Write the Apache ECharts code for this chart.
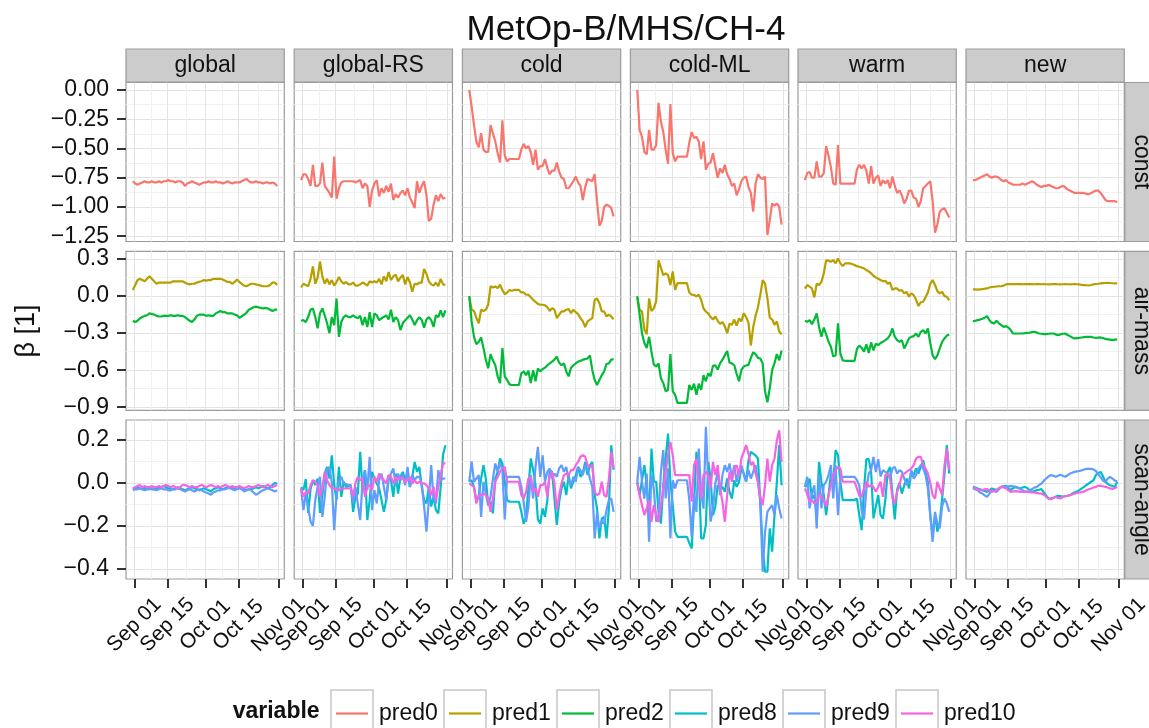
<!DOCTYPE html>
<html>
<head>
<meta charset="utf-8">
<script src="https://cdn.jsdelivr.net/npm/echarts@6/dist/echarts.min.js"></script>
<style>
html,body{margin:0;padding:0;background:#ffffff;}
#chart{width:1149px;height:728px;}
</style>
</head>
<body>
<div id="chart"></div>
<script>
// ---------------- categories / labels ----------------
const columnNames = ['global', 'global-RS', 'cold', 'cold-ML', 'warm', 'new'];
const rowNames = ['const', 'air-mass', 'scan-angle'];
const seriesNames = ['pred0', 'pred1', 'pred2', 'pred8', 'pred9', 'pred10'];
const chartTitle = 'MetOp-B/MHS/CH-4';
const yTitle = 'β [1]';
const legendTitle = 'variable';

// days since Sep 01 (daily values, Aug 31 .. Oct 31)
const days = [];
for (let i = 0; i < 62; i++) days.push(i - 0.6);

const xTickDays = [0, 14, 30, 44, 61];
const xTickLabels = ['Sep 01', 'Sep 15', 'Oct 01', 'Oct 15', 'Nov 01'];
const xMinorDays = [7, 22, 37, 52.5];

const yTicksConst = [0, -0.25, -0.5, -0.75, -1, -1.25];
const yTickLabelsConst = ['0.00', '\u22120.25', '\u22120.50', '\u22120.75', '\u22121.00', '\u22121.25'];
const yMinorConst = [-0.125, -0.375, -0.625, -0.875, -1.125];
const yTicksAir = [0.3, 0, -0.3, -0.6, -0.9];
const yTickLabelsAir = ['0.3', '0.0', '\u22120.3', '\u22120.6', '\u22120.9'];
const yMinorAir = [0.15, -0.15, -0.45, -0.75];
const yTicksScan = [0.2, 0, -0.2, -0.4];
const yTickLabelsScan = ['0.2', '0.0', '\u22120.2', '\u22120.4'];
const yMinorScan = [0.1, -0.1, -0.3];

// ---------------- data: const (pred0) ----------------
const constGlobal = [-0.78,-0.80,-0.81,-0.80,-0.79,-0.78,-0.79,-0.79,-0.78,-0.79,-0.79,-0.78,-0.79,-0.78,-0.78,-0.77,-0.78,-0.78,-0.79,-0.78,-0.78,-0.79,-0.82,-0.80,-0.79,-0.78,-0.79,-0.80,-0.81,-0.80,-0.79,-0.79,-0.78,-0.79,-0.79,-0.78,-0.79,-0.79,-0.80,-0.79,-0.78,-0.79,-0.80,-0.79,-0.79,-0.79,-0.78,-0.77,-0.76,-0.78,-0.79,-0.79,-0.78,-0.79,-0.79,-0.80,-0.79,-0.79,-0.80,-0.79,-0.80,-0.82];
const constGlobalRS = [-0.77,-0.72,-0.72,-0.76,-0.82,-0.64,-0.82,-0.82,-0.80,-0.62,-0.82,-0.85,-0.88,-0.92,-0.57,-0.93,-0.84,-0.79,-0.78,-0.78,-0.78,-0.78,-0.78,-0.79,-0.78,-0.77,-0.84,-0.80,-0.82,-1.00,-0.86,-0.80,-0.77,-0.91,-0.84,-0.88,-0.82,-0.87,-0.80,-0.94,-0.89,-0.92,-0.88,-0.86,-0.90,-0.84,-0.92,-0.96,-1.01,-0.78,-0.88,-0.82,-0.78,-0.90,-1.12,-1.10,-0.98,-0.90,-0.95,-0.89,-0.93,-0.92];
const constCold = [0.00,-0.14,-0.30,-0.44,-0.49,-0.37,-0.51,-0.53,-0.53,-0.30,-0.37,-0.44,-0.54,-0.62,-0.26,-0.56,-0.61,-0.59,-0.59,-0.59,-0.59,-0.59,-0.51,-0.46,-0.50,-0.48,-0.53,-0.64,-0.51,-0.68,-0.65,-0.65,-0.59,-0.67,-0.72,-0.69,-0.69,-0.62,-0.70,-0.75,-0.76,-0.84,-0.84,-0.81,-0.78,-0.74,-0.79,-0.82,-0.94,-0.83,-0.76,-0.77,-0.78,-0.72,-0.95,-1.16,-1.12,-1.00,-0.98,-0.99,-1.01,-1.08];
const constColdML = [0.00,-0.34,-0.40,-0.53,-0.55,-0.34,-0.51,-0.51,-0.47,-0.11,-0.27,-0.36,-0.51,-0.63,-0.12,-0.54,-0.61,-0.57,-0.57,-0.57,-0.57,-0.57,-0.45,-0.36,-0.41,-0.40,-0.44,-0.59,-0.44,-0.68,-0.63,-0.62,-0.54,-0.65,-0.75,-0.67,-0.71,-0.64,-0.72,-0.76,-0.82,-0.80,-0.90,-0.85,-0.78,-0.75,-0.74,-0.83,-0.88,-1.04,-0.80,-0.72,-0.75,-0.76,-0.74,-1.24,-1.11,-0.97,-0.99,-0.97,-1.00,-1.15];
const constWarm = [-0.77,-0.71,-0.70,-0.75,-0.75,-0.61,-0.74,-0.74,-0.71,-0.48,-0.56,-0.66,-0.80,-0.81,-0.47,-0.80,-0.80,-0.80,-0.80,-0.80,-0.80,-0.80,-0.68,-0.64,-0.67,-0.64,-0.69,-0.80,-0.65,-0.80,-0.75,-0.73,-0.82,-0.77,-0.80,-0.77,-0.84,-0.74,-0.82,-0.88,-0.86,-0.90,-0.97,-0.93,-0.86,-0.86,-0.92,-0.93,-1.00,-0.95,-0.84,-0.82,-0.80,-0.78,-0.95,-1.22,-1.15,-1.04,-1.02,-1.01,-1.05,-1.09];
const constNew = [-0.77,-0.77,-0.76,-0.75,-0.74,-0.73,-0.72,-0.74,-0.75,-0.74,-0.74,-0.75,-0.77,-0.78,-0.77,-0.79,-0.80,-0.81,-0.81,-0.81,-0.81,-0.80,-0.81,-0.80,-0.79,-0.78,-0.79,-0.81,-0.82,-0.83,-0.82,-0.82,-0.81,-0.82,-0.83,-0.84,-0.84,-0.83,-0.82,-0.83,-0.85,-0.86,-0.87,-0.88,-0.88,-0.88,-0.88,-0.88,-0.89,-0.89,-0.88,-0.87,-0.86,-0.86,-0.88,-0.91,-0.94,-0.95,-0.95,-0.95,-0.95,-0.96];

// ---------------- data: air-mass (pred1, pred2) ----------------
const p1Global = [0.05,0.09,0.13,0.14,0.13,0.12,0.14,0.16,0.14,0.12,0.10,0.11,0.11,0.11,0.11,0.11,0.11,0.12,0.12,0.12,0.12,0.12,0.11,0.10,0.095,0.10,0.10,0.11,0.115,0.12,0.13,0.125,0.13,0.13,0.14,0.14,0.14,0.14,0.135,0.125,0.115,0.115,0.10,0.115,0.135,0.115,0.10,0.085,0.08,0.09,0.10,0.10,0.095,0.09,0.085,0.08,0.08,0.08,0.09,0.11,0.11,0.09];
const p2Global = [-0.20,-0.21,-0.20,-0.18,-0.17,-0.16,-0.155,-0.14,-0.145,-0.15,-0.16,-0.165,-0.165,-0.16,-0.16,-0.16,-0.155,-0.16,-0.16,-0.155,-0.16,-0.16,-0.17,-0.185,-0.20,-0.21,-0.19,-0.16,-0.15,-0.15,-0.15,-0.16,-0.155,-0.16,-0.16,-0.14,-0.13,-0.12,-0.13,-0.13,-0.14,-0.14,-0.14,-0.15,-0.155,-0.175,-0.165,-0.15,-0.135,-0.11,-0.10,-0.09,-0.085,-0.09,-0.095,-0.10,-0.095,-0.10,-0.11,-0.12,-0.11,-0.11];
const p1GlobalRS = [0.07,0.10,0.09,0.08,0.14,0.24,0.10,0.15,0.28,0.16,0.10,0.14,0.095,0.13,0.085,0.115,0.155,0.12,0.10,0.115,0.095,0.095,0.11,0.085,0.085,0.095,0.11,0.10,0.085,0.12,0.11,0.12,0.11,0.14,0.095,0.16,0.12,0.195,0.13,0.16,0.175,0.12,0.15,0.17,0.095,0.155,0.11,0.035,0.10,0.095,0.11,0.11,0.22,0.18,0.12,0.095,0.085,0.11,0.08,0.14,0.095,0.09];
const p2GlobalRS = [-0.20,-0.195,-0.21,-0.17,-0.11,-0.10,-0.17,-0.26,-0.14,-0.10,-0.155,-0.22,-0.30,-0.17,-0.235,-0.02,-0.33,-0.21,-0.17,-0.155,-0.17,-0.17,-0.155,-0.17,-0.18,-0.16,-0.235,-0.17,-0.25,-0.13,-0.25,-0.14,-0.155,-0.195,-0.18,-0.17,-0.155,-0.19,-0.11,-0.21,-0.17,-0.195,-0.275,-0.22,-0.195,-0.175,-0.155,-0.19,-0.235,-0.195,-0.17,-0.195,-0.255,-0.19,-0.17,-0.195,-0.25,-0.155,-0.17,-0.115,-0.17,-0.115];
const p1Cold = [0.00,-0.11,-0.12,-0.175,-0.22,-0.11,-0.12,-0.11,-0.07,0.08,0.07,0.078,0.065,0.092,0.05,0.015,0.03,0.05,0.043,0.05,0.05,0.05,0.03,0.03,0.011,0.011,-0.01,-0.03,-0.047,-0.063,-0.07,-0.07,-0.075,-0.09,-0.12,-0.097,-0.11,-0.178,-0.15,-0.124,-0.124,-0.11,-0.105,-0.138,-0.11,-0.13,-0.146,-0.178,-0.205,-0.25,-0.205,-0.19,-0.178,-0.03,-0.02,-0.057,-0.124,-0.124,-0.165,-0.15,-0.165,-0.187];
const p2Cold = [0.00,-0.205,-0.33,-0.39,-0.37,-0.335,-0.42,-0.515,-0.585,-0.47,-0.52,-0.56,-0.65,-0.705,-0.42,-0.65,-0.68,-0.715,-0.72,-0.72,-0.72,-0.72,-0.625,-0.61,-0.64,-0.605,-0.705,-0.60,-0.69,-0.585,-0.61,-0.59,-0.58,-0.56,-0.545,-0.53,-0.515,-0.49,-0.54,-0.56,-0.545,-0.61,-0.65,-0.58,-0.56,-0.545,-0.53,-0.525,-0.515,-0.51,-0.505,-0.48,-0.60,-0.68,-0.72,-0.68,-0.64,-0.61,-0.55,-0.545,-0.515,-0.51];
const p1ColdML = [-0.01,-0.11,-0.125,-0.27,-0.31,-0.02,-0.12,-0.10,-0.04,0.29,0.23,0.17,0.185,0.17,0.09,0.20,0.05,0.105,0.105,0.105,0.105,0.105,0.03,0.011,0.01,-0.003,0.011,-0.03,-0.10,-0.125,-0.14,-0.17,-0.19,-0.165,-0.20,-0.225,-0.21,-0.245,-0.30,-0.225,-0.232,-0.19,-0.24,-0.18,-0.205,-0.14,-0.17,-0.215,-0.40,-0.25,-0.16,-0.09,0.01,0.13,0.10,-0.016,-0.175,-0.19,-0.232,-0.205,-0.287,-0.31];
const p2ColdML = [0.00,-0.15,-0.30,-0.38,-0.42,-0.33,-0.45,-0.555,-0.57,-0.545,-0.665,-0.705,-0.77,-0.76,-0.47,-0.77,-0.80,-0.865,-0.865,-0.865,-0.865,-0.865,-0.72,-0.76,-0.71,-0.80,-0.71,-0.76,-0.64,-0.69,-0.625,-0.65,-0.565,-0.56,-0.595,-0.545,-0.515,-0.48,-0.445,-0.54,-0.545,-0.56,-0.63,-0.69,-0.60,-0.57,-0.562,-0.557,-0.50,-0.455,-0.47,-0.50,-0.505,-0.545,-0.77,-0.86,-0.745,-0.60,-0.543,-0.47,-0.52,-0.44];
const p1Warm = [0.06,0.09,0.076,0.062,-0.01,0.10,0.09,0.116,0.184,0.29,0.287,0.278,0.292,0.265,0.305,0.265,0.243,0.265,0.265,0.265,0.26,0.251,0.243,0.238,0.232,0.224,0.211,0.20,0.184,0.165,0.151,0.14,0.13,0.12,0.124,0.10,0.11,0.05,0.062,0.062,0.043,0.049,0.022,0.035,-0.005,0.022,0.008,-0.03,-0.08,-0.05,-0.046,-0.01,0.03,0.10,0.13,0.09,0.04,0.022,0.035,0.0,-0.005,-0.035];
const p2Warm = [-0.20,-0.208,-0.195,-0.227,-0.19,-0.14,-0.25,-0.33,-0.255,-0.31,-0.37,-0.41,-0.49,-0.48,-0.22,-0.465,-0.52,-0.524,-0.524,-0.524,-0.524,-0.524,-0.43,-0.40,-0.42,-0.45,-0.39,-0.46,-0.375,-0.44,-0.385,-0.397,-0.38,-0.37,-0.357,-0.343,-0.316,-0.262,-0.33,-0.357,-0.37,-0.357,-0.424,-0.384,-0.343,-0.33,-0.324,-0.303,-0.33,-0.289,-0.276,-0.303,-0.262,-0.38,-0.48,-0.511,-0.48,-0.424,-0.37,-0.343,-0.32,-0.311];
const p1New = [0.054,0.054,0.052,0.054,0.056,0.06,0.062,0.07,0.074,0.076,0.078,0.08,0.08,0.085,0.095,0.097,0.097,0.097,0.097,0.097,0.097,0.096,0.097,0.097,0.098,0.097,0.096,0.097,0.097,0.096,0.097,0.096,0.095,0.096,0.097,0.097,0.096,0.095,0.096,0.097,0.096,0.095,0.096,0.097,0.096,0.095,0.09,0.089,0.088,0.086,0.09,0.095,0.098,0.10,0.103,0.105,0.106,0.108,0.106,0.104,0.103,0.103];
const p2New = [-0.203,-0.20,-0.195,-0.19,-0.183,-0.175,-0.162,-0.195,-0.215,-0.222,-0.20,-0.22,-0.235,-0.249,-0.243,-0.255,-0.275,-0.303,-0.303,-0.303,-0.303,-0.303,-0.30,-0.298,-0.297,-0.292,-0.289,-0.295,-0.303,-0.305,-0.308,-0.308,-0.305,-0.303,-0.303,-0.31,-0.316,-0.31,-0.305,-0.303,-0.315,-0.324,-0.335,-0.343,-0.34,-0.338,-0.335,-0.332,-0.33,-0.33,-0.33,-0.335,-0.338,-0.336,-0.335,-0.34,-0.347,-0.35,-0.353,-0.357,-0.352,-0.35];

// ---------------- data: scan-angle (pred8, pred9, pred10) ----------------
const p8Global = [-0.03,-0.025,-0.02,-0.025,-0.03,-0.025,-0.02,-0.025,-0.03,-0.03,-0.025,-0.02,-0.02,-0.015,-0.02,-0.025,-0.03,-0.03,-0.025,-0.02,-0.025,-0.03,-0.035,-0.03,-0.025,-0.02,-0.025,-0.03,-0.035,-0.03,-0.025,-0.03,-0.035,-0.04,-0.03,-0.025,-0.02,-0.025,-0.03,-0.025,-0.02,-0.02,-0.025,-0.03,-0.025,-0.02,-0.025,-0.03,-0.035,-0.03,-0.03,-0.025,-0.02,-0.025,-0.02,-0.015,-0.02,-0.025,-0.02,-0.01,0.0,-0.005];
const p9Global = [-0.035,-0.03,-0.03,-0.025,-0.03,-0.035,-0.03,-0.03,-0.025,-0.03,-0.035,-0.03,-0.025,-0.03,-0.03,-0.035,-0.035,-0.03,-0.03,-0.025,-0.03,-0.035,-0.04,-0.035,-0.03,-0.035,-0.04,-0.035,-0.03,-0.035,-0.04,-0.045,-0.05,-0.055,-0.045,-0.04,-0.035,-0.035,-0.03,-0.03,-0.025,-0.025,-0.03,-0.035,-0.03,-0.025,-0.03,-0.04,-0.035,-0.03,-0.035,-0.045,-0.055,-0.05,-0.04,-0.035,-0.03,-0.025,-0.03,-0.035,-0.04,-0.035];
const p10Global = [-0.025,-0.02,-0.015,-0.01,-0.02,-0.015,-0.02,-0.02,-0.015,-0.02,-0.02,-0.015,-0.02,-0.015,-0.01,-0.015,-0.02,-0.015,-0.02,-0.025,-0.02,-0.01,-0.01,-0.015,-0.02,-0.015,-0.02,-0.02,-0.015,-0.01,-0.015,-0.02,-0.015,-0.01,-0.015,-0.02,-0.015,-0.02,-0.015,-0.01,-0.015,-0.02,-0.015,-0.02,-0.02,-0.015,-0.02,-0.025,-0.02,-0.015,-0.02,-0.02,-0.015,-0.01,-0.015,-0.02,-0.015,-0.01,-0.015,-0.02,-0.015,-0.01];
const p8GlobalRS = [-0.02,-0.034,0.017,-0.14,-0.03,0.012,-0.01,0.02,-0.14,-0.06,0.043,0.074,0.02,0.128,-0.01,-0.08,0.074,-0.065,0.005,-0.019,-0.015,-0.011,-0.135,-0.065,-0.05,0.144,-0.042,0.059,-0.173,-0.08,0.051,0.02,-0.003,-0.026,-0.08,-0.135,-0.08,0.036,0.012,-0.065,0.043,-0.05,0.028,0.051,0.012,0.051,-0.019,0.028,0.097,0.051,0.074,-0.019,-0.08,-0.096,-0.02,-0.11,-0.065,-0.127,-0.142,-0.02,0.13,0.175];
const p9GlobalRS = [-0.026,-0.127,-0.05,-0.111,-0.18,-0.20,-0.08,-0.019,0.028,-0.158,-0.065,0.059,0.074,0.0,-0.22,-0.05,0.005,0.028,-0.003,-0.005,-0.011,-0.011,-0.096,-0.019,-0.10,-0.173,0.012,0.059,-0.034,0.121,-0.127,-0.034,-0.096,0.012,0.043,-0.019,-0.08,0.012,0.043,0.067,-0.011,0.043,0.012,0.036,-0.011,0.074,-0.019,0.036,0.012,0.028,0.028,-0.003,-0.111,-0.227,-0.08,0.082,-0.08,-0.096,0.059,0.012,0.02,0.02];
const p10GlobalRS = [-0.026,-0.065,-0.042,-0.05,-0.011,0.012,0.005,-0.011,-0.065,-0.026,0.051,0.012,-0.011,-0.026,-0.026,-0.034,-0.034,-0.026,-0.026,-0.026,-0.026,-0.026,-0.065,0.0,0.028,0.012,0.02,-0.065,-0.019,-0.011,-0.034,0.028,0.005,0.043,0.028,0.012,-0.003,0.036,0.028,-0.003,0.028,0.012,0.028,0.02,0.005,0.012,0.028,-0.003,0.012,-0.003,0.005,-0.003,-0.003,-0.011,-0.026,-0.057,-0.019,-0.08,-0.019,0.036,0.09,0.09];
const p8Cold = [0.005,0.012,-0.019,-0.08,-0.065,0.02,0.082,0.02,-0.104,-0.088,-0.142,0.02,0.051,0.113,0.09,0.005,-0.08,-0.088,-0.088,-0.088,-0.088,-0.088,-0.135,-0.19,-0.16,-0.02,0.113,0.059,-0.011,-0.17,-0.189,-0.119,-0.158,-0.08,0.059,0.051,-0.073,-0.196,-0.088,-0.026,0.005,-0.057,0.036,-0.026,0.005,0.036,0.074,0.028,0.043,0.097,0.036,0.082,0.097,-0.057,-0.119,-0.258,-0.166,-0.158,-0.258,-0.12,0.175,0.06];
const p9Cold = [0.005,0.10,0.005,0.02,0.036,-0.158,0.005,-0.05,-0.104,-0.065,0.02,0.09,0.051,0.097,0.059,-0.17,0.028,0.028,0.028,0.028,0.028,0.028,-0.019,-0.088,-0.181,-0.11,0.036,-0.073,0.074,0.167,0.028,0.128,0.005,0.051,0.067,0.02,0.043,0.028,0.067,0.082,0.051,0.074,0.012,-0.011,0.028,0.005,0.074,0.059,0.036,0.082,0.067,0.02,-0.019,-0.258,-0.142,-0.212,-0.181,-0.189,-0.127,-0.08,-0.073,-0.135];
const p10Cold = [-0.003,-0.011,-0.019,-0.096,-0.057,-0.057,-0.05,-0.057,-0.073,-0.135,-0.073,0.005,0.028,0.051,0.067,0.074,0.005,0.005,0.005,0.005,0.005,0.005,-0.057,-0.073,-0.042,0.02,0.028,-0.042,-0.026,-0.065,-0.011,-0.011,0.005,-0.065,0.036,0.051,-0.003,-0.127,-0.057,-0.003,0.036,0.043,0.036,0.059,0.059,0.082,0.097,0.121,0.128,0.121,0.082,0.074,0.082,-0.042,-0.057,-0.05,0.005,-0.057,-0.065,0.02,0.144,0.067];
const p8ColdML = [0.005,-0.057,0.012,0.082,-0.011,-0.15,0.159,0.005,0.005,-0.135,-0.189,-0.011,0.113,0.229,0.005,-0.104,-0.227,-0.251,-0.251,-0.251,-0.251,-0.251,-0.28,-0.305,-0.10,0.144,0.05,-0.258,-0.258,-0.196,0.097,0.02,-0.15,-0.11,-0.011,-0.026,-0.019,-0.042,0.02,-0.042,-0.073,0.012,-0.019,0.005,0.067,0.043,0.005,0.105,0.144,0.136,0.128,0.113,-0.088,-0.305,-0.413,-0.413,-0.212,-0.32,-0.15,0.005,0.175,-0.011];
const p9ColdML = [0.005,0.121,0.005,-0.073,0.043,-0.274,0.036,-0.026,-0.181,-0.15,0.051,0.152,-0.073,0.067,-0.258,0.012,-0.026,0.012,0.012,0.012,0.012,0.012,-0.08,-0.25,-0.05,-0.135,0.159,-0.05,-0.12,0.26,0.012,-0.18,-0.119,-0.003,0.051,-0.057,0.036,0.082,0.051,0.09,0.02,0.082,0.005,0.059,0.082,0.043,0.005,0.059,0.02,0.051,0.082,0.005,-0.088,-0.413,-0.23,-0.135,-0.119,-0.104,-0.15,-0.057,-0.119,-0.166];
const p10ColdML = [-0.003,-0.057,-0.104,-0.15,-0.119,-0.08,-0.181,-0.104,-0.15,-0.181,-0.104,-0.026,0.051,0.128,0.19,0.128,0.036,0.036,0.036,0.036,0.036,0.036,0.036,-0.088,0.082,0.113,-0.003,-0.073,0.036,0.051,0.036,-0.026,0.097,0.036,0.082,-0.026,-0.088,-0.181,-0.057,0.051,0.005,0.067,0.082,0.028,0.113,0.144,0.175,0.136,0.082,0.097,0.043,0.005,-0.065,-0.104,-0.011,0.113,0.005,0.082,0.113,0.198,0.244,0.097];
const p8Warm = [-0.019,-0.011,0.02,-0.073,-0.057,-0.15,0.097,0.005,-0.057,-0.15,-0.057,0.043,0.005,0.152,0.128,0.005,-0.08,-0.08,-0.08,-0.08,-0.08,-0.08,-0.073,-0.15,-0.22,-0.03,0.11,0.11,0.05,-0.165,-0.11,-0.057,-0.15,-0.166,-0.08,0.051,0.074,-0.05,-0.17,-0.03,0.0,-0.05,-0.011,0.02,-0.026,0.051,0.036,0.067,0.043,0.074,0.105,0.051,0.005,-0.15,-0.243,-0.15,-0.227,-0.181,-0.073,0.036,0.175,0.043];
const p9Warm = [-0.019,0.028,-0.119,-0.05,-0.011,-0.212,0.036,-0.119,-0.011,0.005,0.036,0.082,-0.073,0.082,-0.15,0.028,0.028,0.028,0.028,0.028,0.028,0.028,0.012,-0.011,-0.13,-0.17,-0.03,0.043,0.059,0.12,0.05,0.11,0.03,0.059,0.051,0.043,0.02,0.067,0.074,0.043,0.059,0.051,0.02,-0.011,0.005,0.059,0.02,0.036,0.067,0.082,0.067,0.036,-0.026,-0.15,-0.274,-0.135,-0.19,-0.212,-0.11,-0.073,-0.096,-0.135];
const p10Warm = [-0.026,-0.05,-0.088,-0.08,-0.096,-0.088,-0.057,-0.065,-0.08,-0.111,-0.057,-0.011,0.036,0.059,0.074,0.067,0.005,0.005,0.005,0.005,0.005,0.005,-0.026,-0.06,-0.065,-0.026,0.005,-0.019,-0.011,-0.019,-0.042,-0.019,0.005,-0.065,0.036,0.043,0.02,-0.07,-0.096,-0.042,-0.011,0.036,0.043,0.051,0.059,0.067,0.082,0.113,0.121,0.121,0.082,0.067,0.043,0.0,-0.057,-0.073,0.005,-0.026,-0.057,0.08,0.159,0.06];
const p8New = [-0.019,-0.022,-0.026,-0.03,-0.034,-0.038,-0.042,-0.035,-0.026,-0.03,-0.034,-0.026,-0.019,-0.016,-0.014,-0.025,-0.034,-0.025,-0.019,-0.022,-0.026,-0.022,-0.019,-0.024,-0.035,-0.042,-0.038,-0.034,-0.032,-0.029,-0.045,-0.06,-0.073,-0.072,-0.07,-0.065,-0.06,-0.062,-0.065,-0.062,-0.06,-0.057,-0.05,-0.045,-0.04,-0.034,-0.026,-0.019,-0.01,-0.003,0.005,0.012,0.036,0.045,0.051,0.03,0.005,-0.005,-0.011,-0.015,-0.019,0.005];
const p9New = [-0.026,-0.03,-0.034,-0.045,-0.05,-0.058,-0.065,-0.05,-0.034,-0.038,-0.042,-0.03,-0.019,-0.019,-0.019,-0.016,-0.014,-0.016,-0.019,-0.024,-0.029,-0.035,-0.04,-0.042,-0.035,-0.029,-0.022,-0.019,-0.01,-0.003,0.01,0.02,0.03,0.036,0.033,0.028,0.033,0.038,0.033,0.028,0.035,0.043,0.047,0.051,0.053,0.055,0.058,0.062,0.065,0.065,0.065,0.062,0.055,0.04,0.025,0.01,0.005,0.02,0.028,0.02,0.01,0.008];
const p10New = [-0.023,-0.026,-0.03,-0.034,-0.034,-0.03,-0.029,-0.035,-0.042,-0.038,-0.034,-0.025,-0.019,-0.022,-0.026,-0.034,-0.042,-0.04,-0.039,-0.04,-0.042,-0.042,-0.042,-0.042,-0.043,-0.045,-0.045,-0.047,-0.049,-0.05,-0.055,-0.065,-0.073,-0.076,-0.07,-0.065,-0.07,-0.073,-0.065,-0.062,-0.06,-0.057,-0.054,-0.05,-0.047,-0.045,-0.043,-0.04,-0.035,-0.03,-0.026,-0.022,-0.019,-0.014,-0.014,-0.016,-0.019,-0.022,-0.026,-0.028,-0.024,-0.019];

// ---------------- assembling ----------------
const palette = {pred0:'#F8766D', pred1:'#B79F00', pred2:'#00BA38', pred8:'#00BFC4', pred9:'#619CFF', pred10:'#F564E3'};
const panelSeries = [
  [[['pred0', constGlobal]], [['pred0', constGlobalRS]], [['pred0', constCold]], [['pred0', constColdML]], [['pred0', constWarm]], [['pred0', constNew]]],
  [[['pred1', p1Global], ['pred2', p2Global]], [['pred1', p1GlobalRS], ['pred2', p2GlobalRS]], [['pred1', p1Cold], ['pred2', p2Cold]], [['pred1', p1ColdML], ['pred2', p2ColdML]], [['pred1', p1Warm], ['pred2', p2Warm]], [['pred1', p1New], ['pred2', p2New]]],
  [[['pred8', p8Global], ['pred9', p9Global], ['pred10', p10Global]], [['pred8', p8GlobalRS], ['pred9', p9GlobalRS], ['pred10', p10GlobalRS]], [['pred8', p8Cold], ['pred9', p9Cold], ['pred10', p10Cold]], [['pred8', p8ColdML], ['pred9', p9ColdML], ['pred10', p10ColdML]], [['pred8', p8Warm], ['pred9', p9Warm], ['pred10', p10Warm]], [['pred8', p8New], ['pred9', p9New], ['pred10', p10New]]]
];
const rowTicks = [yTicksConst, yTicksAir, yTicksScan];
const rowTickLabels = [yTickLabelsConst, yTickLabelsAir, yTickLabelsScan];
const rowMinor = [yMinorConst, yMinorAir, yMinorScan];
const rowRange = [[-1.295, 0.064], [-0.925, 0.363], [-0.447, 0.292]];
const xRange = [-3.5, 63.4];

// layout
const FONT = "'Liberation Sans', Arial, Helvetica, sans-serif";
const colLeft = [126, 294.2, 462.4, 630.4, 798, 966];
const rowTop = [82.5, 251.3, 420];
const PW = 158.3, PH = 159;
const MAJOR = '#e3e3e3', MINOR = '#f1f1f1', BORDER = '#9b9b9b';

const grids = [], xAxes = [], yAxes = [], series = [];
const xMinorAxes = [], yMinorAxes = [];
for (let r = 0; r < 3; r++) {
  for (let c = 0; c < 6; c++) {
    const g = r * 6 + c;
    grids.push({left: colLeft[c], top: rowTop[r], width: PW, height: PH, show: true,
      borderColor: BORDER, borderWidth: 1.2, backgroundColor: '#ffffff', containLabel: false, outerBoundsMode: 'none'});
    xAxes.push({
      gridIndex: g, type: 'value', min: xRange[0], max: xRange[1], position: 'bottom',
      axisLine: {show: false, onZero: false},
      axisTick: {show: r === 2, customValues: xTickDays, length: 9, lineStyle: {color: '#333333', width: 2}},
      axisLabel: {show: r === 2, customValues: xTickDays, hideOverlap: false,
        formatter: v => xTickLabels[xTickDays.indexOf(v)] || '',
        rotate: 45, align: 'center', verticalAlign: 'middle', margin: 46,
        fontSize: 21, color: '#111111', fontFamily: FONT},
      splitLine: {show: true, lineStyle: {color: MAJOR, width: 1}}
    });
    xMinorAxes.push({
      gridIndex: g, type: 'value', min: xRange[0], max: xRange[1], position: 'top',
      axisLine: {show: false, onZero: false},
      axisTick: {show: false, customValues: xMinorDays},
      axisLabel: {show: false, customValues: xMinorDays},
      splitLine: {show: true, lineStyle: {color: MINOR, width: 1}}
    });
    const tk = rowTicks[r], tl = rowTickLabels[r];
    yAxes.push({
      gridIndex: g, type: 'value', min: rowRange[r][0], max: rowRange[r][1], position: 'left',
      axisLine: {show: false, onZero: false},
      axisTick: {show: c === 0, customValues: tk, length: 9, lineStyle: {color: '#333333', width: 2}},
      axisLabel: {show: c === 0, customValues: tk, hideOverlap: false,
        formatter: v => { const k = tk.findIndex(t => Math.abs(t - v) < 1e-9); return k >= 0 ? tl[k] : ''; },
        margin: 17, fontSize: 23, color: '#111111', fontFamily: FONT},
      splitLine: {show: true, lineStyle: {color: MAJOR, width: 1}}
    });
    yMinorAxes.push({
      gridIndex: g, type: 'value', min: rowRange[r][0], max: rowRange[r][1], position: 'right',
      axisLine: {show: false, onZero: false},
      axisTick: {show: false, customValues: rowMinor[r]},
      axisLabel: {show: false, customValues: rowMinor[r]},
      splitLine: {show: true, lineStyle: {color: MINOR, width: 1}}
    });
    panelSeries[r][c].forEach(([name, vals]) => {
      series.push({
        type: 'line', name: name, xAxisIndex: g, yAxisIndex: g,
        data: days.map((d, i) => [d, vals[i]]),
        symbol: 'none', showSymbol: false, smooth: false, clip: true, silent: true,
        color: palette[name],
        lineStyle: {width: 2.2, color: palette[name]},
        itemStyle: {color: palette[name]},
        z: 3
      });
    });
  }
}

// strips, axis title, legend keys (layout graphics)
const graphics = [];
for (let c = 0; c < 6; c++) {
  graphics.push({type: 'rect', shape: {x: colLeft[c], y: 49, width: PW, height: 33},
    style: {fill: '#cccccc', stroke: BORDER, lineWidth: 1.2}, z: 1});
  graphics.push({type: 'text', x: colLeft[c] + PW / 2, y: 65.5,
    style: {text: columnNames[c], fontSize: 23, fontFamily: FONT, fill: '#111111', align: 'center', verticalAlign: 'middle'}, z: 2});
}
for (let r = 0; r < 3; r++) {
  graphics.push({type: 'rect', shape: {x: 1124.8, y: rowTop[r], width: 40, height: PH},
    style: {fill: '#cccccc', stroke: BORDER, lineWidth: 1.2}, z: 1});
  graphics.push({type: 'text', x: 1141.5, y: rowTop[r] + PH / 2, rotation: -Math.PI / 2,
    style: {text: rowNames[r], fontSize: 23, fontFamily: FONT, fill: '#111111', align: 'center', verticalAlign: 'middle'}, z: 2});
}
graphics.push({type: 'text', x: 27, y: 331, rotation: Math.PI / 2,
  style: {text: yTitle, fontSize: 27, fontFamily: FONT, fill: '#111111', align: 'center', verticalAlign: 'middle'}, z: 2});
graphics.push({type: 'text', x: 232.7, y: 711.7,
  style: {text: legendTitle, fontSize: 23, fontWeight: 'bold', fontFamily: FONT, fill: '#111111', align: 'left', verticalAlign: 'middle'}, z: 2});

const legends = [];
seriesNames.forEach((n, k) => {
  const boxX = 331 + 113 * k;
  graphics.push({type: 'rect', shape: {x: boxX, y: 690, width: 42, height: 44},
    style: {fill: '#ffffff', stroke: '#c6c6c6', lineWidth: 1.5}, z: 1});
  legends.push({
    data: [n], left: boxX + 5, top: 702, orient: 'horizontal', padding: 0,
    icon: 'rect', itemWidth: 32, itemHeight: 2.2, selectedMode: false,
    textStyle: {fontSize: 23, color: '#111111', fontFamily: FONT, padding: [0, 0, 0, 6]}
  });
});

const option = {
  animation: false,
  backgroundColor: '#ffffff',
  title: {text: chartTitle, left: 626, top: 13, textAlign: 'center', padding: 0,
    textStyle: {fontSize: 35, fontWeight: 'normal', color: '#111111', fontFamily: FONT}},
  legend: legends,
  grid: grids,
  xAxis: xAxes.concat(xMinorAxes),
  yAxis: yAxes.concat(yMinorAxes),
  series: series,
  graphic: graphics
};

const chart = echarts.init(document.getElementById('chart'), null, {renderer: 'canvas', width: 1149, height: 728});
chart.setOption(option);
</script>
</body>
</html>
